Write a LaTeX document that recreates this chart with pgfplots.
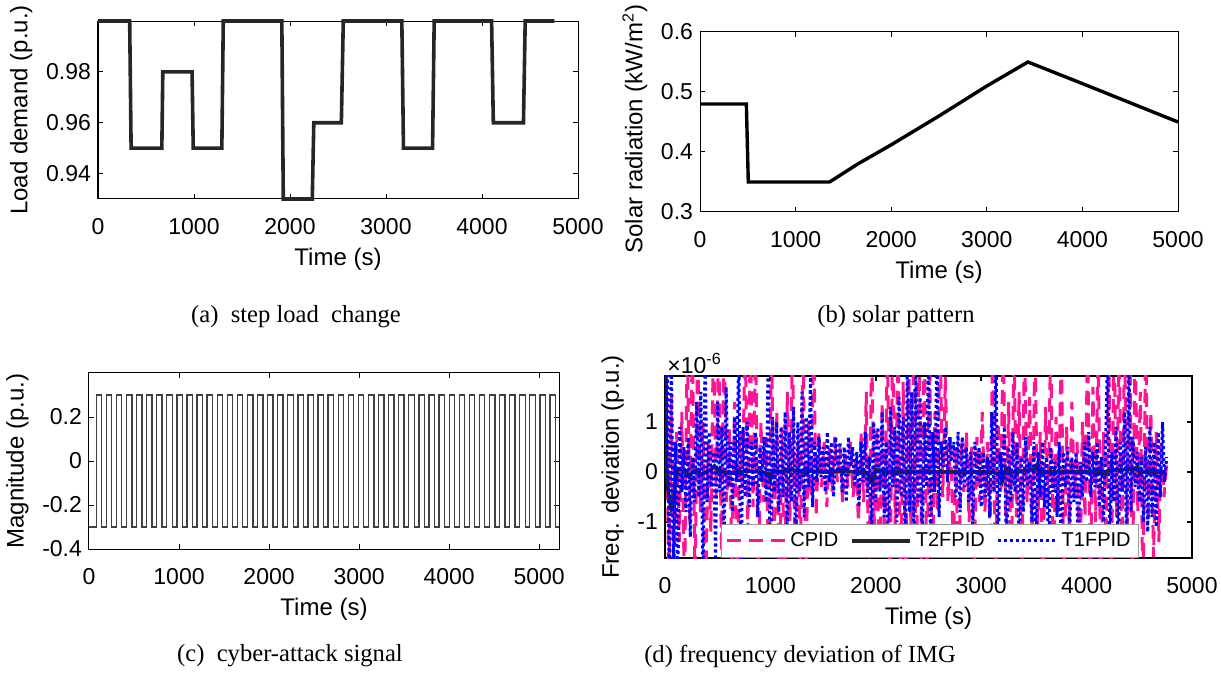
\documentclass[border=0pt]{standalone}
\usepackage{fontspec}
\setmainfont{Liberation Sans}
\newfontfamily\capfont{Liberation Serif}
\usepackage{pgfplots}
\pgfplotsset{compat=1.18}
\definecolor{ln}{HTML}{262626}
\definecolor{sq}{HTML}{404040}
\definecolor{cpid}{HTML}{FF1493}
\definecolor{tfpid}{HTML}{0000FF}

\pgfplotsset{mat/.style={
  scale only axis, anchor=south west,
  axis line style={line width=0.5pt},
  tick align=inside, xtick pos=both, ytick pos=both,
  major tick length=2.5pt, tick style={black, line width=0.5pt},
  tick label style={font=\fontsize{11.5}{13}\selectfont},
  xticklabel style={yshift=-6pt},
  label style={font=\fontsize{12}{14}\selectfont},
  xlabel={Time (s)},
}}

\begin{document}
\begin{tikzpicture}
\path[use as bounding box] (0,0) rectangle (610.5pt,-342pt);

% (a) step load change
\begin{axis}[mat, at={(49pt,-99.5pt)}, width=240pt, height=89pt, clip=false,
  xmin=0, xmax=5000, ymin=0.93, ymax=1.0,
  xtick={0,1000,2000,3000,4000,5000}, xticklabels={0,1000,2000,3000,4000,5000},
  ytick={0.94,0.96,0.98}, yticklabels={0.94,0.96,0.98},
  ylabel={Load demand (p.u.)}]
\addplot[ln, line width=1.8pt] coordinates {
 (0,1)(330,1)(345,0.95)(665,0.95)(675,0.98)(980,0.98)(992,0.95)(1290,0.95)
 (1305,1)(1915,1)(1930,0.93)(2232,0.93)(2248,0.96)(2535,0.96)(2555,1)(3165,1)
 (3182,0.95)(3485,0.95)(3502,1)(4100,1)(4118,0.96)(4432,0.96)(4450,1)(4755,1)};
\end{axis}

% (b) solar pattern
\begin{axis}[mat, at={(350pt,-106pt)}, width=239pt, height=90pt,
  xmin=0, xmax=5000, ymin=0.3, ymax=0.6,
  xtick={0,1000,2000,3000,4000,5000}, xticklabels={0,1000,2000,3000,4000,5000},
  ytick={0.3,0.4,0.5,0.6}, yticklabels={0.3,0.4,0.5,0.6},
  ylabel={Solar radiation (kW/m\textsuperscript{2})},
  ylabel style={at={(ticklabel cs:0.46)}}]
\addplot[black, line width=1.7pt] coordinates {
 (0,0.48)(485,0.48)(505,0.35)(1355,0.35)(1650,0.38)(2000,0.412)(2500,0.46)
 (3000,0.51)(3430,0.55)(4000,0.514)(4500,0.482)(5000,0.45)};
\end{axis}

% (c) cyber-attack signal
\begin{axis}[mat, at={(44.5pt,-274.5pt)}, width=235pt, height=88pt,
  xmin=0, xmax=5220, ymin=-0.4, ymax=0.4,
  xtick={0,1000,2000,3000,4000,5000}, xticklabels={0,1000,2000,3000,4000,5000},
  ytick={-0.4,-0.2,0,0.2}, yticklabels={-0.4,-0.2,0,0.2},
  ylabel={Magnitude (p.u.)}]
\addplot[sq, line width=0.65pt, const plot] coordinates {
 (0,-0.3)(80,0.3)(140,-0.3)(192,0.3)(252,-0.3)(304,0.3)(364,-0.3)(416,0.3)(476,-0.3)
 (528,0.3)(588,-0.3)(640,0.3)(700,-0.3)(752,0.3)(812,-0.3)(864,0.3)(924,-0.3)
 (976,0.3)(1036,-0.3)(1088,0.3)(1148,-0.3)(1200,0.3)(1260,-0.3)(1312,0.3)(1372,-0.3)
 (1424,0.3)(1484,-0.3)(1536,0.3)(1596,-0.3)(1648,0.3)(1708,-0.3)(1760,0.3)(1820,-0.3)
 (1872,0.3)(1932,-0.3)(1984,0.3)(2044,-0.3)(2096,0.3)(2156,-0.3)(2208,0.3)(2268,-0.3)
 (2320,0.3)(2380,-0.3)(2432,0.3)(2492,-0.3)(2544,0.3)(2604,-0.3)(2656,0.3)(2716,-0.3)
 (2768,0.3)(2828,-0.3)(2880,0.3)(2940,-0.3)(2992,0.3)(3052,-0.3)(3104,0.3)(3164,-0.3)
 (3216,0.3)(3276,-0.3)(3328,0.3)(3388,-0.3)(3440,0.3)(3500,-0.3)(3552,0.3)(3612,-0.3)
 (3664,0.3)(3724,-0.3)(3776,0.3)(3836,-0.3)(3888,0.3)(3948,-0.3)(4000,0.3)(4060,-0.3)
 (4112,0.3)(4172,-0.3)(4224,0.3)(4284,-0.3)(4336,0.3)(4396,-0.3)(4448,0.3)(4508,-0.3)
 (4560,0.3)(4620,-0.3)(4672,0.3)(4732,-0.3)(4784,0.3)(4844,-0.3)(4896,0.3)(4956,-0.3)
 (5008,0.3)(5068,-0.3)(5120,0.3)(5180,-0.3)(5215,-0.3)};
\end{axis}

% (d) frequency deviation of IMG (values in 1e-6 p.u.)
\begin{axis}[mat, name=axd, at={(332.5pt,-279pt)}, width=263.5pt, height=91pt,
  axis line style={line width=1pt}, tick style={black, line width=1pt},
  xmin=0, xmax=5000, ymin=-1.72, ymax=1.92,
  xtick={0,1000,2000,3000,4000,5000}, xticklabels={0,1000,2000,3000,4000,5000},
  ytick={-1,0,1}, yticklabels={-1,0,1},
  ylabel={Freq. deviation (p.u.)},
  legend columns=3, legend cell align=left,
  legend image code/.code={\draw[#1] (0pt,0pt) -- (29pt,0pt);},
  legend style={at={(0.106,0)}, anchor=south west, draw=gray!80, fill=white,
    line width=0.6pt, font=\fontsize{10}{12}\selectfont, inner sep=2pt,
    /tikz/every even column/.append style={column sep=4pt}}]
\addplot[cpid, line width=1.5pt, dash pattern=on 7pt off 4pt] coordinates {
 (10,2.8)(35,-2.5)(60,1.5)(85,-2.6)(110,0.8)(135,-1.4)(160,1.2)(185,-2.6)(210,2.8)(235,-1.0)
 (260,2.8)(285,-2.6)(310,2.8)(335,-0.8)(360,1.0)(385,-2.6)(410,0.6)(435,-1.2)(460,2.8)(485,-0.5)
 (510,2.8)(535,-1.6)(560,2.8)(585,-0.6)(610,0.9)(635,-1.8)(660,1.4)(685,-2.6)(710,0.8)(735,-0.4)
 (760,2.8)(785,-1.2)(810,2.8)(835,-0.7)(860,2.8)(885,-2.6)(910,1.0)(935,-0.6)(960,0.7)(985,-2.6)
 (1010,2.8)(1035,-1.5)(1060,1.2)(1085,-2.6)(1110,0.9)(1135,-2.6)(1160,1.6)(1185,-1.0)(1210,2.8)(1235,-2.6)
 (1260,0.6)(1285,-1.8)(1310,2.8)(1335,-2.6)(1360,1.0)(1385,-0.5)(1410,2.8)(1435,-0.9)(1460,0.8)(1485,-0.3)
 (1510,0.6)(1535,-0.7)(1560,0.5)(1585,-0.4)(1610,0.7)(1635,-0.2)(1660,0.5)(1685,-0.6)(1710,0.4)(1735,-0.3)
 (1760,0.6)(1785,-0.5)(1810,0.3)(1835,-1.0)(1860,0.8)(1885,-0.6)(1910,1.6)(1935,-2.6)(1960,2.8)(1985,-1.2)
 (2010,0.9)(2035,-2.6)(2060,1.4)(2085,-1.7)(2110,2.8)(2135,-2.6)(2160,2.8)(2185,-1.3)(2210,2.8)(2235,-2.6)
 (2260,1.8)(2285,-2.6)(2310,2.8)(2335,-1.5)(2360,2.8)(2385,-2.6)(2410,2.8)(2435,-1.8)(2460,2.8)(2485,-2.6)
 (2510,2.8)(2535,-2.6)(2560,1.2)(2585,-0.8)(2610,2.8)(2635,-0.5)(2660,1.9)(2685,-0.6)(2710,0.7)(2735,-1.6)
 (2760,0.5)(2785,-2.6)(2810,0.6)(2835,-0.4)(2860,0.8)(2885,-1.0)(2910,0.5)(2935,-1.8)(2960,0.7)(2985,-0.6)
 (3010,1.2)(3035,-0.8)(3060,0.6)(3085,-1.2)(3110,2.8)(3135,-2.6)(3160,1.0)(3185,-0.4)(3210,2.8)(3235,-1.5)
 (3260,1.4)(3285,-2.6)(3310,2.8)(3335,-0.9)(3360,1.6)(3385,-2.6)(3410,2.8)(3435,-0.6)(3460,1.5)(3485,-1.7)
 (3510,2.8)(3535,-1.2)(3560,0.8)(3585,-2.6)(3610,1.3)(3635,-0.7)(3660,2.8)(3685,-2.6)(3710,1.1)(3735,-0.8)
 (3760,2.8)(3785,-2.6)(3810,0.9)(3835,-1.1)(3860,1.4)(3885,-0.5)(3910,0.6)(3935,-2.6)(3960,1.0)(3985,-0.9)
 (4010,2.8)(4035,-2.6)(4060,1.7)(4085,-1.0)(4110,2.8)(4135,-2.6)(4160,0.8)(4185,-1.5)(4210,2.8)(4235,-2.6)
 (4260,2.8)(4285,-0.9)(4310,2.8)(4335,-2.6)(4360,2.8)(4385,-1.2)(4410,2.8)(4435,-2.6)(4460,2.8)(4485,-0.8)
 (4510,1.6)(4535,-2.6)(4560,2.8)(4585,-1.0)(4610,1.2)(4635,-1.7)(4660,0.8)(4685,-1.4)(4710,0.6)(4735,-0.5)
 (4760,0.2)};
\addlegendentry{CPID}
\addplot[ln, line width=1.8pt] coordinates {
 (0,0)(5,2.5)(12,1.0)(20,-0.2)(40,-0.5)(60,-0.72)(80,-0.6)(100,-0.2)(120,0.05)(150,0.06)
 (200,0.0)(230,-0.1)(260,0.0)(300,0.03)(350,-0.05)(400,0.02)(440,0.05)(470,0.12)(500,0.03)(550,0.0)
 (600,-0.02)(700,0.0)(800,0.02)(900,0.0)(980,-0.03)(1000,-0.15)(1020,0.02)(1100,0.0)(1200,0.05)(1300,0.0)
 (1400,0.02)(1500,0.0)(1600,0.0)(1700,0.02)(1800,0.0)(1900,0.0)(1950,-0.12)(1970,-0.2)(2000,0.05)(2100,0.0)
 (2300,0.0)(2500,0.02)(2600,0.0)(2700,0.0)(2900,0.0)(3100,0.0)(3180,-0.05)(3200,-0.18)(3230,0.04)(3300,0.0)
 (3500,0.05)(3520,0.12)(3550,0.0)(3800,0.0)(4000,0.0)(4150,0.0)(4170,-0.08)(4200,0.03)(4450,0.06)(4480,0.1)
 (4500,0.0)(4750,0.0)};
\addlegendentry{T2FPID}
\addplot[tfpid, line width=1.5pt, dash pattern=on 1.5pt off 1.5pt] coordinates {
 (0,0)(20,2.6)(40,-2.4)(60,2.5)(80,-1.8)(100,0.6)(120,-2.5)(140,0.9)(160,-0.4)(180,0.5)
 (200,-0.8)(220,0.7)(240,-1.3)(260,0.3)(280,-0.6)(300,1.4)(320,-0.5)(340,1.6)(360,-2.5)(380,2.5)
 (400,-0.6)(420,0.8)(440,-0.3)(460,0.4)(480,-1.7)(500,1.4)(520,-0.4)(540,0.9)(560,-1.7)(580,1.7)
 (600,-0.3)(620,0.6)(640,-0.8)(660,1.1)(680,-0.2)(700,2.5)(720,-2.5)(740,0.9)(760,-0.5)(780,1.0)
 (800,-0.7)(820,0.6)(840,-0.3)(860,0.8)(880,-0.9)(900,0.5)(920,-0.2)(940,0.7)(960,-0.6)(980,2.5)
 (1000,-2.5)(1020,1.1)(1040,-0.4)(1060,1.0)(1080,-0.8)(1100,0.9)(1120,-0.5)(1140,1.2)(1160,-1.3)(1180,0.8)
 (1200,-0.6)(1220,1.3)(1240,-1.7)(1260,1.0)(1280,-0.4)(1300,1.6)(1320,-0.9)(1340,1.1)(1360,-0.3)(1380,1.9)
 (1400,-0.7)(1420,0.6)(1440,-0.2)(1460,0.7)(1480,-0.1)(1500,0.5)(1520,-0.4)(1540,0.8)(1560,-0.2)(1580,0.6)
 (1600,-0.5)(1620,0.7)(1640,0.0)(1660,0.6)(1680,-0.4)(1700,0.5)(1720,-0.6)(1740,0.7)(1760,0.1)(1780,0.5)
 (1800,-0.3)(1820,0.4)(1840,-0.7)(1860,0.6)(1880,-0.2)(1900,0.8)(1920,-0.5)(1940,0.3)(1960,-1.2)(1980,1.0)
 (2000,-0.6)(2020,0.9)(2040,-0.4)(2060,1.2)(2080,-0.9)(2100,0.6)(2120,-1.7)(2140,1.3)(2160,-0.3)(2180,0.9)
 (2200,-1.0)(2220,1.5)(2240,-0.5)(2260,1.1)(2280,-1.7)(2300,2.5)(2320,-0.8)(2340,1.6)(2360,-1.4)(2380,1.9)
 (2400,-0.6)(2420,1.5)(2440,-1.7)(2460,1.0)(2480,-0.3)(2500,2.5)(2520,-1.7)(2540,0.8)(2560,-0.4)(2580,2.5)
 (2600,-0.9)(2620,0.6)(2640,0.1)(2660,0.9)(2680,-0.2)(2700,0.7)(2720,0.2)(2740,0.6)(2760,-0.5)(2780,0.8)
 (2800,-0.8)(2820,0.7)(2840,-0.3)(2860,0.5)(2880,-0.6)(2900,0.4)(2920,-1.1)(2940,0.6)(2960,-0.2)(2980,0.5)
 (3000,-0.7)(3020,0.4)(3040,-0.5)(3060,0.3)(3080,-0.9)(3100,1.2)(3120,-0.4)(3140,2.5)(3160,-1.7)(3180,0.4)
 (3200,-0.2)(3220,0.9)(3240,-1.7)(3260,0.5)(3280,-0.6)(3300,0.8)(3320,-0.4)(3340,0.6)(3360,-1.7)(3380,0.3)
 (3400,-0.8)(3420,0.7)(3440,-0.3)(3460,0.2)(3480,-1.0)(3500,0.6)(3520,-1.7)(3540,0.4)(3560,-0.5)(3580,0.6)
 (3600,-0.7)(3620,0.3)(3640,-1.7)(3660,0.5)(3680,-0.4)(3700,0.2)(3720,-0.9)(3740,0.6)(3760,-1.7)(3780,0.4)
 (3800,-0.3)(3820,0.5)(3840,-1.2)(3860,0.3)(3880,-0.6)(3900,0.4)(3920,-1.7)(3940,0.2)(3960,-0.5)(3980,0.6)
 (4000,-0.2)(4020,0.8)(4040,-0.5)(4060,0.4)(4080,-0.3)(4100,0.6)(4120,-0.7)(4140,0.3)(4160,-1.0)(4180,0.5)
 (4200,2.5)(4220,-1.7)(4240,0.4)(4260,-0.6)(4280,0.9)(4300,-1.7)(4320,0.6)(4340,-0.4)(4360,1.2)(4380,-1.7)
 (4400,2.5)(4420,-0.8)(4440,0.7)(4460,-0.3)(4480,0.4)(4500,-0.6)(4520,0.3)(4540,-1.0)(4560,0.5)(4580,-1.2)
 (4600,0.9)(4620,-0.9)(4640,0.6)(4660,-1.1)(4680,0.8)(4700,-0.5)(4720,1.0)(4740,-0.2)(4760,0.3)};
\addlegendentry{T1FPID}
\end{axis}
\node[anchor=south west, inner sep=1pt, font=\fontsize{11.5}{13}\selectfont] at (axd.north west) {×10\textsuperscript{-6}};

% sub-captions
\begin{scope}[every node/.style={font=\capfont\fontsize{12.3}{14}\selectfont}]
\node at (148pt,-158.5pt) {(a)\ \ step load\ \ change};
\node at (448pt,-158.5pt) {(b) solar pattern};
\node at (145pt,-328pt) {(c)\ \ cyber-attack signal};
\node at (400pt,-328pt) {(d) frequency deviation of IMG};
\end{scope}
\end{tikzpicture}
\end{document}
